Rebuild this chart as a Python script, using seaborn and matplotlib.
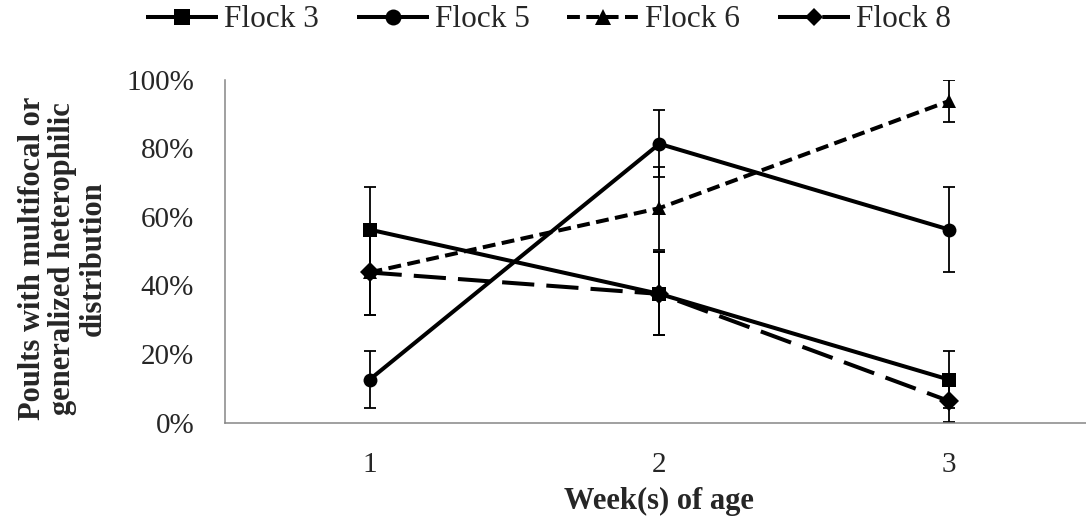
import matplotlib
matplotlib.use("Agg")
import matplotlib.pyplot as plt
import seaborn as sns
import pandas as pd
from matplotlib.font_manager import FontProperties

# Data: percentage of poults per flock by week of age, with standard errors
weeks = [1, 2, 3]
week_labels = ["1", "2", "3"]
flocks = ["Flock 3", "Flock 5", "Flock 6", "Flock 8"]
flock3 = [56.25, 37.5, 12.5]
flock5 = [12.5, 81.25, 56.25]
flock6 = [43.75, 62.5, 93.75]
flock8 = [43.75, 37.5, 6.25]
err3 = [12.4, 12.1, 8.3]
err5 = [8.3, 9.8, 12.4]
err6 = [12.4, 12.1, 6.1]
err8 = [12.4, 12.1, 6.1]
y_ticks = [0, 20, 40, 60, 80, 100]

values = {"Flock 3": flock3, "Flock 5": flock5, "Flock 6": flock6, "Flock 8": flock8}
errors = {"Flock 3": err3, "Flock 5": err5, "Flock 6": err6, "Flock 8": err8}

df = pd.DataFrame(
    [(f, w, v) for f in flocks for w, v in zip(weeks, values[f])],
    columns=["flock", "week", "pct"],
)

sns.set_style("white")
serif = ["Liberation Serif", "DejaVu Serif"]
plt.rcParams["font.family"] = serif
plt.rcParams["lines.solid_capstyle"] = "butt"

fig = plt.figure(figsize=(10.86, 5.25), dpi=100)
ax = fig.add_axes([0.2069, 0.1952, 0.8005, 0.6533])

axis_grey = "#868686"

# error bars underneath the series lines
for f in flocks:
    ax.errorbar(weeks, values[f], yerr=errors[f], fmt="none", ecolor="black",
                elinewidth=1.3, capsize=4.5, capthick=1.3, zorder=2)

sns.lineplot(
    data=df, x="week", y="pct", hue="flock", style="flock",
    palette={f: "black" for f in flocks},
    markers={"Flock 3": "s", "Flock 5": "o", "Flock 6": "^", "Flock 8": "D"},
    dashes={"Flock 3": "", "Flock 5": "", "Flock 6": (3.2, 1.6), "Flock 8": (8.0, 3.0)},
    linewidth=2.9, markersize=10, markeredgewidth=0, ax=ax, zorder=3,
)

plot_sizes = {"Flock 3": 11, "Flock 5": 11.5, "Flock 6": 12, "Flock 8": 9}
legend_sizes = {"Flock 3": 9, "Flock 5": 9, "Flock 6": 9.5, "Flock 8": 7}
handles, labels = ax.get_legend_handles_labels()
for h, lab in zip(handles, labels):
    if lab in legend_sizes:
        h.set_markersize(legend_sizes[lab])
for line in ax.get_lines():
    lab = line.get_label()
    if lab in plot_sizes:
        line.set_markersize(plot_sizes[lab])
if ax.get_legend() is not None:
    ax.get_legend().remove()

legend_font = FontProperties(family="Liberation Serif", size=22.5)
leg = fig.legend(handles, labels, loc="center", bbox_to_anchor=(0.505, 0.962), ncol=4,
                 frameon=False, prop=legend_font,
                 handlelength=2.3, handletextpad=0.2, columnspacing=1.2, borderaxespad=0)
for t in leg.get_texts():
    t.set_fontfamily("Liberation Serif")
    t.set_fontsize(22.5)

ax.set_xlim(0.5, 3.5)
ax.set_ylim(0, 100)
ax.set_xticks(weeks)
ax.set_xticklabels(week_labels)
ax.set_xticks([0.5, 1.5, 2.5, 3.5], minor=True)
ax.set_yticks(y_ticks)
ax.set_yticklabels([f"{t}%" for t in y_ticks])
ax.tick_params(axis="x", which="major", length=0, pad=21, labelsize=21)
ax.tick_params(axis="x", which="minor", length=7, width=1.1, color=axis_grey, direction="out")
ax.tick_params(axis="y", length=7, width=1.1, color=axis_grey, direction="out",
               pad=15, labelsize=21)
ax.set_xlabel("")
ax.set_ylabel("")

for side in ["top", "right"]:
    ax.spines[side].set_visible(False)
for side in ["left", "bottom"]:
    ax.spines[side].set_color(axis_grey)
    ax.spines[side].set_linewidth(1.1)

fig.text(0.607, 0.044, "Week(s) of age", ha="center", va="center",
         fontsize=22, fontweight="bold")
fig.text(0.058, 0.508, "Poults with multifocal or\ngeneralized heterophilic\ndistribution",
         ha="center", va="center", rotation=90, fontsize=22, fontweight="bold",
         multialignment="center", linespacing=1.05)

fig.savefig("out.png", dpi=100)
